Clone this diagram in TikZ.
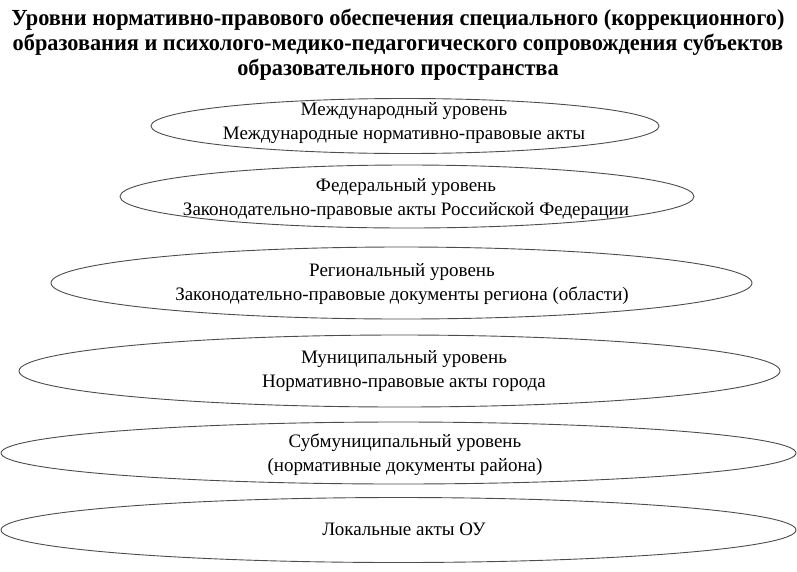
\documentclass[tikz,border=0pt]{standalone}
\usepackage{fontspec}
\setmainfont{Liberation Serif}
\newfontfamily\titlefont[FakeStretch=0.97]{Liberation Serif}
\usetikzlibrary{shapes.geometric}
\begin{document}
\begin{tikzpicture}[x=1pt,y=-1pt,
  lvl/.style={draw=black!70, line width=0.9pt, ellipse, inner sep=0pt},
  lbl/.style={align=center, inner sep=0pt, font=\fontsize{19}{24}\selectfont},
  ttl/.style={align=center, inner sep=0pt, font=\titlefont\bfseries\fontsize{23}{25}\selectfont}]
\useasboundingbox (0,0) rectangle (797,571);
\node[ttl] (title) at (398,45) {Уровни нормативно-правового обеспечения специального (коррекционного)\\
образования и психолого-медико-педагогического сопровождения субъектов\\
образовательного пространства};
\node[lvl, minimum width=508pt, minimum height=55pt] (e1) at (405,126) {};
\node[lvl, minimum width=574pt, minimum height=63pt] (e2) at (407,196.5) {};
\node[lvl, minimum width=701pt, minimum height=72pt] (e3) at (401.5,283) {};
\node[lvl, minimum width=761pt, minimum height=72pt] (e4) at (399.5,371) {};
\node[lvl, minimum width=795pt, minimum height=62pt] (e5) at (398.5,453) {};
\node[lvl, minimum width=795pt, minimum height=65pt] (e6) at (398.5,530) {};
\node[lbl] (t1) at (404,123.5) {Международный уровень\\Международные нормативно-правовые акты};
\node[lbl] (t2) at (406,199) {Федеральный уровень\\Законодательно-правовые акты Российской Федерации};
\node[lbl] (t3) at (402,284) {Региональный уровень\\Законодательно-правовые документы региона (области)};
\node[lbl] (t4) at (404,371) {Муниципальный уровень\\Нормативно-правовые акты города};
\node[lbl] (t5) at (405,455) {Субмуниципальный уровень\\(нормативные документы района)};
\node[lbl] (t6) at (404,529) {Локальные акты ОУ};
\end{tikzpicture}
\end{document}
